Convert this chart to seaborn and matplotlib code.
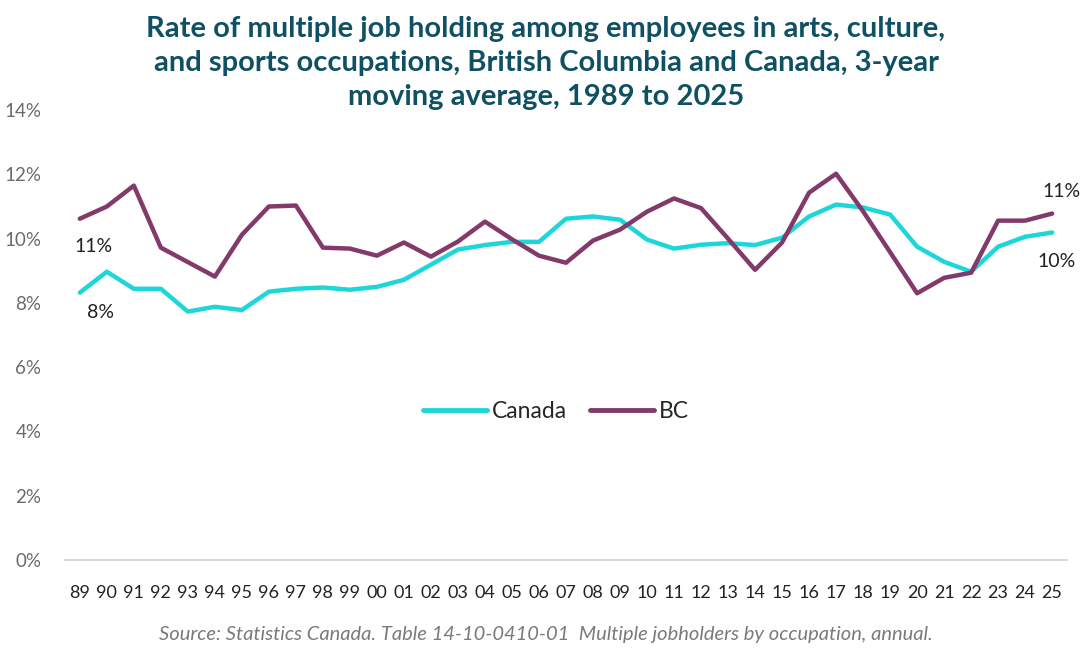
import seaborn as sns
import matplotlib.pyplot as plt
import numpy as np
import pandas as pd

# 3-year moving average rate of multiple job holding (%)
years = ['89', '90', '91', '92', '93', '94', '95', '96', '97', '98', '99',
         '00', '01', '02', '03', '04', '05', '06', '07', '08', '09', '10',
         '11', '12', '13', '14', '15', '16', '17', '18', '19', '20', '21',
         '22', '23', '24', '25']
canada = [8.32, 8.97, 8.44, 8.44, 7.73, 7.88, 7.78, 8.35, 8.44, 8.48, 8.41,
          8.50, 8.72, 9.19, 9.66, 9.80, 9.90, 9.90, 10.62, 10.69, 10.59, 9.97,
          9.69, 9.81, 9.86, 9.80, 10.03, 10.69, 11.06, 10.97, 10.75, 9.75, 9.28,
          8.97, 9.75, 10.06, 10.19]
bc = [10.62, 11.00, 11.65, 9.72, 9.27, 8.82, 10.12, 11.00, 11.03, 9.72, 9.69,
      9.47, 9.88, 9.44, 9.91, 10.53, 9.98, 9.47, 9.25, 9.94, 10.28, 10.84,
      11.25, 10.95, 10.00, 9.03, 9.88, 11.43, 12.02, 10.85, 9.58, 8.30, 8.78,
      8.94, 10.56, 10.56, 10.78]

df = pd.DataFrame({
    'x': list(range(len(years))) * 2,
    'rate': canada + bc,
    'series': ['Canada'] * len(years) + ['BC'] * len(years),
})
colors = {'Canada': '#1dd6da', 'BC': '#833a6b'}

sns.set_style('white')
plt.rcParams['font.family'] = ['Lato', 'DejaVu Sans']

fig = plt.figure(figsize=(10.92, 6.53), dpi=100)
ax = fig.add_axes([0.0595, 0.1424, 0.9176, 0.689])

sns.lineplot(data=df, x='x', y='rate', hue='series', palette=colors,
             linewidth=3.2, ax=ax, legend=False)

ax.set_xlim(-0.55, len(years) - 0.45)
ax.set_ylim(0, 14)
ax.set_xticks(range(len(years)))
ax.set_xticklabels(years)
ax.set_yticks(np.arange(0, 15, 2))
ax.set_yticklabels([f'{v}%' for v in range(0, 15, 2)])
ax.tick_params(axis='x', labelsize=13, colors='#222222', length=0, pad=18)
ax.tick_params(axis='y', labelsize=13.5, colors='#6b6b6b', length=0, pad=17)
ax.set_xlabel('')
ax.set_ylabel('')
for side in ['top', 'right', 'left']:
    ax.spines[side].set_visible(False)
ax.spines['bottom'].set_color('#d0d0d0')
ax.spines['bottom'].set_linewidth(1.2)

# end labels
ax.annotate(f'{bc[0]:.0f}%', (0, bc[0]), xytext=(10, -20), textcoords='offset points',
            ha='center', va='center', fontsize=14, color='#222222')
ax.annotate(f'{canada[0]:.0f}%', (0, canada[0]), xytext=(15, -14), textcoords='offset points',
            ha='center', va='center', fontsize=14, color='#222222')
n = len(years) - 1
ax.annotate(f'{bc[n]:.0f}%', (n, bc[n]), xytext=(7, 16), textcoords='offset points',
            ha='center', va='center', fontsize=14, color='#222222')
ax.annotate(f'{canada[n]:.0f}%', (n, canada[n]), xytext=(3, -21), textcoords='offset points',
            ha='center', va='center', fontsize=14, color='#222222')

handles = [plt.Line2D([], [], color=colors[s], linewidth=3.5) for s in ['Canada', 'BC']]
ax.legend(handles, ['Canada', 'BC'], loc='center', bbox_to_anchor=(0.49, 0.33),
          ncol=2, frameon=False, fontsize=16.5, handlelength=2.8,
          handletextpad=0.2, columnspacing=1.0)

fig.text(0.5, 0.975, 'Rate of multiple job holding among employees in arts, culture,\n'
         'and sports occupations, British Columbia and Canada, 3-year\n'
         'moving average, 1989 to 2025',
         ha='center', va='top', fontsize=21, fontweight='bold', color='#0f5163',
         linespacing=1.38)
fig.text(0.5, 0.028, 'Source: Statistics Canada. Table 14-10-0410-01  Multiple jobholders by occupation, annual.',
         ha='center', va='center', fontsize=14.5, style='italic', color='#7a7a7a')

fig.savefig('out.png', dpi=100)
